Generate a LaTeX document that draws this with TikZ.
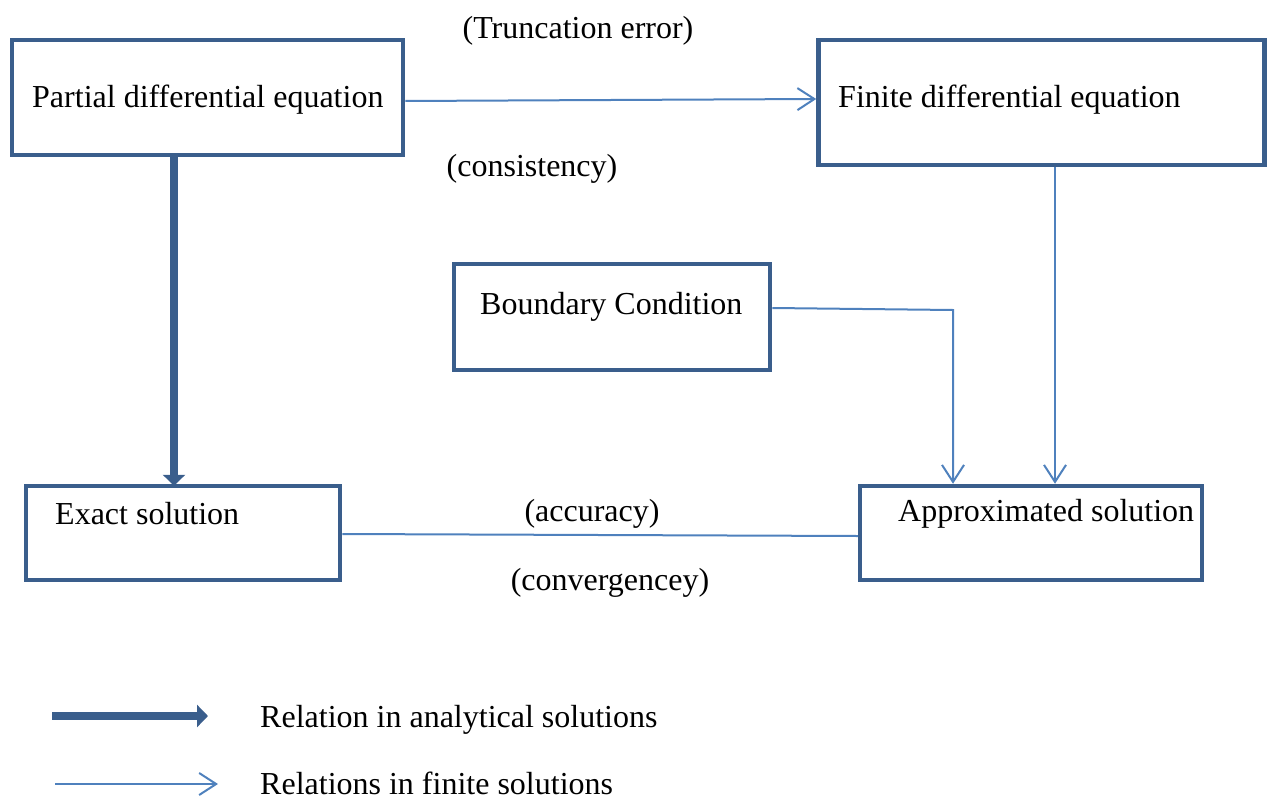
\documentclass[tikz,border=0pt]{standalone}
\usepackage{fontspec}
\setmainfont{Liberation Serif}
\usetikzlibrary{arrows.meta}
\definecolor{boxblue}{HTML}{3A5E8C}
\definecolor{lineblue}{HTML}{4F81BD}
\tikzset{
  box/.style={draw=boxblue, line width=4.5pt, fill=white, inner sep=0pt},
  lbl/.style={font=\fontsize{32}{36}\selectfont, inner sep=0pt, text=black},
  thin/.style={draw=lineblue, line width=2pt, -{Straight Barb[length=17pt,width=22pt,line width=2pt]}},
  thick/.style={draw=boxblue, line width=8pt, -{Triangle[length=11pt,width=22pt]}},
}
\begin{document}
\begin{tikzpicture}[x=1pt,y=-1pt]
\useasboundingbox (0,0) rectangle (1268,800);
% boxes
\node[box, minimum width=391pt, minimum height=115pt] (pde) at (207.5,97.5) {};
\node[box, minimum width=446pt, minimum height=125pt] (fde) at (1041.5,102.5) {};
\node[box, minimum width=316pt, minimum height=106pt] (bc) at (612,317) {};
\node[box, minimum width=314pt, minimum height=94pt] (ex) at (183,533) {};
\node[box, minimum width=342pt, minimum height=94pt] (ap) at (1031,533) {};
% box texts
\node[lbl, anchor=west] (tpde) at (32,100) {Partial differential equation};
\node[lbl, anchor=west] (tfde) at (838,100) {Finite differential equation};
\node[lbl, anchor=west] (tbc) at (480,307) {Boundary Condition};
\node[lbl, anchor=west] (tex) at (55,514) {Exact solution};
\node[lbl, anchor=west] (tap) at (898,514) {Approximated solution};
% labels
\node[lbl] (ltr) at (578,31) {(Truncation error)};
\node[lbl] (lco) at (532,169) {(consistency)};
\node[lbl] (lac) at (592,514) {(accuracy)};
\node[lbl] (lcv) at (610,583) {(convergencey)};
% connectors
\draw[thin] (pde.east |- 0,101) -- (fde.west |- 0,99);
\draw[thick] (pde.south -| 174,0) -- ([yshift=-2pt]ex.north -| 174,0);
\draw[thin] (fde.south -| 1055,0) -- (ap.north -| 1055,0);
\draw[thin] (bc.east |- 0,308) -- (953,310) -- (ap.north -| 953,0);
\draw[draw=lineblue, line width=2pt] (ex.east |- 0,534) -- (ap.west |- 0,536);
% legend
\coordinate (a1) at (52,716);
\coordinate (a2) at (208,716);
\coordinate (b1) at (55,784);
\coordinate (b2) at (218,784);
\draw[thick] (a1) -- (a2);
\draw[thin] (b1) -- (b2);
\node[lbl, anchor=west] (leg1) at (260,720) {Relation in analytical solutions};
\node[lbl, anchor=west] (leg2) at (260,783) {Relations in finite solutions};
\end{tikzpicture}
\end{document}
